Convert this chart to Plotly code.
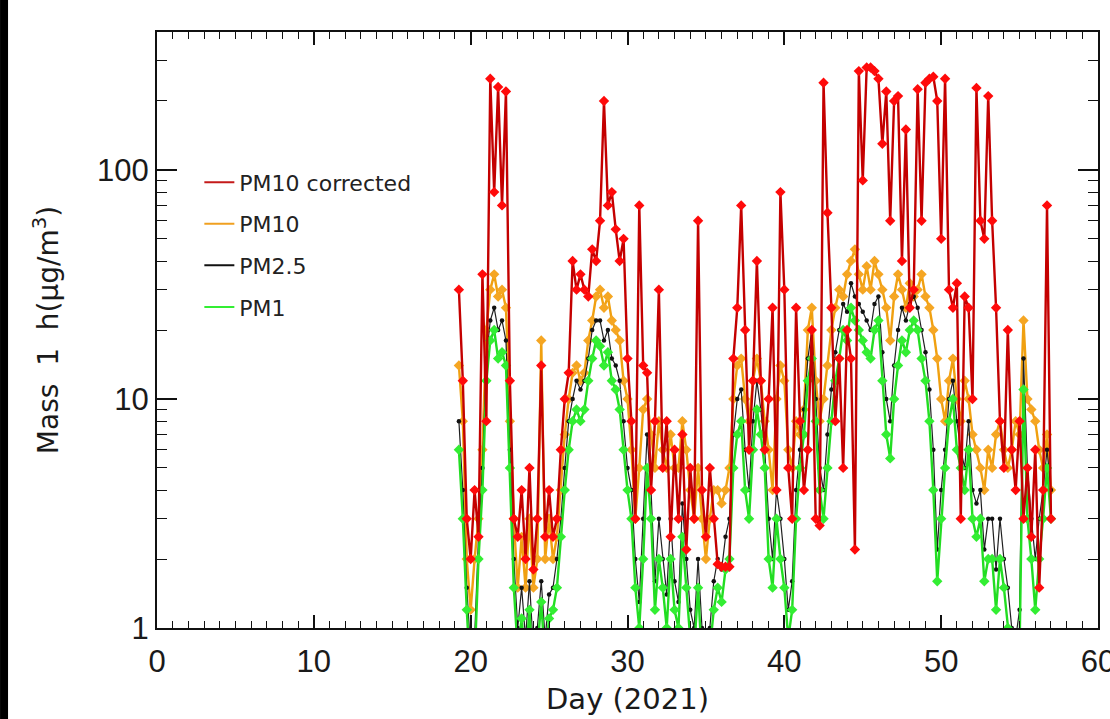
import numpy as np
import plotly.graph_objects as go

# Time grid (day of 2021), 6-hourly samples
day = np.arange(19.25, 57.01, 0.25)

pm10_corrected = [
    30, 12, 3, 2,        4, 2.5, 35, 8,       250, 80, 230, 70,    220, 12, 3, 2.5,
    4, 2, 5, 1.8,        3, 14, 2.5, 4,       2.5, 3, 6, 10,       13, 40, 30, 35,
    30, 28, 45, 40,      60, 200, 70, 80,     55, 40, 50, 15,      8, 3, 70, 14,
    13, 4, 8, 30,        5, 8, 2.5, 6,        3, 7, 2.2, 5,        3, 60, 4, 2.5,
    5, 3, 1.9, 1.85,     1.85, 1.85, 15, 25,  70, 20, 6, 12,       40, 12, 6, 10,
    25, 4, 80, 30,       5, 3, 25, 8,         4, 6, 20, 3,         2.8, 240, 65, 25,
    8, 15, 5, 20,        15, 2.2, 270, 90,    280, 280, 270, 250,  130, 220, 60, 200,
    210, 40, 150, 25,    30, 225, 60, 240,    250, 255, 200, 50,   250, 30, 25, 32,
    3, 28, 25, 10,       228, 60, 50, 210,    60, 25, 8, 5,        20, 6, 4, 8,
    3, 5, 2.5, 6,        1.5, 4, 70, 3,
]

pm10 = [
    14, 8, 2, 1.2,       2, 3, 6, 20,         30, 35, 28, 30,      25, 8, 3, 1.5,
    2.5, 1.5, 3, 1.5,    2, 18, 2, 3,         2, 2.5, 4, 7,        10, 13, 14, 12,
    13, 18, 22, 28,      30, 25, 28, 22,      20, 18, 12, 10,      6, 3, 5, 9,
    10, 7, 5, 8,         6, 5, 7, 5,          5, 8, 6, 4,          3, 5, 3, 2,
    3, 4, 4, 3.5,        4, 5, 10, 14,        15, 10, 8, 12,       15, 12, 8, 6,
    4, 10, 14, 12,       6, 5, 8, 7,          9, 20, 25, 12,       8, 10, 14, 20,
    25, 30, 28, 35,      40, 45, 35, 30,      38, 30, 40, 35,      30, 25, 18, 28,
    35, 30, 25, 32,      28, 30, 35, 28,      25, 20, 15, 10,      8, 12, 15, 10,
    8, 12, 10, 7,        6, 5, 4, 6,          5, 7, 8, 6,          5, 6, 8, 7,
    22, 10, 9, 8,        6, 5, 7, 4,
]

pm25 = [
    8, 4, 1.5, 0.8,      0.9, 2.5, 5, 15,     22, 25, 20, 22,      18, 6, 2, 1,
    1.5, 0.9, 1.6, 0.8,  1, 1.6, 0.9, 1.4,    1.5, 2, 3, 5,        8, 10, 12, 11,
    12, 15, 20, 22,      22, 18, 20, 15,      14, 12, 8, 5,        4, 2, 1.3, 3,
    7, 4, 1.6, 3,        2, 1.4, 3, 1.6,      1.3, 3.5, 2, 1.2,    1, 2, 1, 0.8,
    1, 1.6, 2, 1.8,      2.5, 3, 7, 10,       11, 6, 4, 8,         12, 9, 6, 3,
    2, 4, 3, 2,          1.2, 1.6, 4, 6,      9, 15, 20, 10,       5, 4, 7, 11,
    16, 20, 26, 24,      32, 28, 26, 24,      22, 20, 26, 28,      16, 10, 8, 14,
    20, 25, 22, 26,      28, 25, 20, 16,      11, 6, 2.2, 4,       6, 10, 12, 8,
    6, 5, 8, 4,          3.5, 4, 2.2, 3,      3, 1.8, 3, 2,        1.5, 1, 0.9, 1.2,
    15, 5, 3, 2,         3, 4, 6, 4,
]

pm1 = [
    6, 3, 1.2, 0.6,      0.7, 2, 4, 12,       18, 20, 15, 16,      14, 5, 1.5, 0.8,
    1.1, 0.7, 1.2, 0.6,  0.8, 1.3, 0.7, 1.1,  1.2, 1.5, 2.5, 4,    6, 8, 9, 8,
    9, 12, 15, 18,       17, 14, 16, 12,      11, 9, 6, 4,         3, 1.5, 1, 2,
    5, 3, 1.2, 2,        1.5, 1, 2, 1.2,      1, 2.5, 1.5, 0.9,    0.8, 1.5, 0.7, 0.6,
    0.8, 1.2, 1.5, 1.3,  1.8, 2, 5, 7,        8, 4, 3, 6,          9, 7, 5, 2,
    1.5, 3, 2, 1.5,      0.9, 1.2, 3, 5,      7, 12, 15, 8,        4, 3, 5, 8,
    12, 15, 20, 18,      25, 22, 20, 18,      16, 15, 20, 22,      12, 7, 5.5, 10,
    14, 18, 16, 20,      22, 20, 15, 12,      8, 4, 1.6, 3,        5, 8, 10, 6,
    5, 4, 6, 3,          2.5, 3, 1.6, 2,      2, 1.2, 2, 1.5,      1, 0.7, 0.6, 0.8,
    11, 3, 2, 1.2,       2, 3, 5, 3,
]

series_names = ["PM10 corrected", "PM10", "PM2.5", "PM1"]
x_major = [0, 10, 20, 30, 40, 50, 60]
x_minor = list(range(0, 61))
y_major = [1, 10, 100]
y_major_text = ["1", "10", "100"]
y_minor = [2, 3, 4, 5, 6, 7, 8, 9, 20, 30, 40, 50, 60, 70, 80, 90, 200, 300, 400]

XR = [0, 60]
YR = [0, float(np.log10(400))]

fig = go.Figure()

fig.add_trace(go.Scatter(x=day, y=pm10, mode="lines+markers", showlegend=False,
                         line=dict(color="#f0a010", width=2.4),
                         marker=dict(symbol="diamond", size=8, color="#f5a623")))
fig.add_trace(go.Scatter(x=day, y=pm25, mode="lines+markers", showlegend=False,
                         line=dict(color="#202020", width=1.2),
                         marker=dict(symbol="circle", size=4.5, color="#111111")))
fig.add_trace(go.Scatter(x=day, y=pm1, mode="lines+markers", showlegend=False,
                         line=dict(color="#22dd22", width=2.4),
                         marker=dict(symbol="diamond", size=8, color="#33ee33")))
fig.add_trace(go.Scatter(x=day, y=pm10_corrected, mode="lines+markers", showlegend=False,
                         line=dict(color="#c40000", width=2.4),
                         marker=dict(symbol="diamond", size=8, color="#ff0a0a")))

leg_colors = ["#c41a1a", "#f0a020", "#111111", "#33ee33"]
for i, (nm, c) in enumerate(zip(series_names, leg_colors)):
    fig.add_trace(go.Scatter(x=[None], y=[None], mode="lines", name=nm,
                             legendgroup=f"g{i}", line=dict(color=c, width=2)))

# empty traces so the overlay tick axes (minor / mirrored ticks) get drawn
for k in (2, 3, 4):
    fig.add_trace(go.Scatter(x=[None], y=[None], xaxis=f"x{k}", yaxis=f"y{k}",
                             showlegend=False, hoverinfo="skip", mode="markers"))

axis_font = dict(family="Liberation Sans", size=31, color="#1a1a1a")
tick_col = "#111111"

def tick_axis(**kw):
    d = dict(showgrid=False, zeroline=False, showticklabels=False, showline=False,
             ticks="inside", tickcolor=tick_col, automargin=False)
    d.update(kw)
    return d

fig.update_layout(
    width=1110, height=719,
    margin=dict(l=157, r=12, t=32, b=91),
    paper_bgcolor="white", plot_bgcolor="rgba(0,0,0,0)",
    showlegend=True,
    legend=dict(x=0.045, y=0.783, xanchor="left", yanchor="top",
                bgcolor="rgba(0,0,0,0)", borderwidth=0,
                font=dict(family="DejaVu Sans", size=22, color="#222222"),
                tracegroupgap=10, itemwidth=30, traceorder="grouped"),
    xaxis=dict(range=XR, tickvals=x_major, ticks="inside", ticklen=13,
               tickwidth=1.5, tickcolor=tick_col, showline=True, linecolor=tick_col,
               linewidth=2, mirror=True, showgrid=False, zeroline=False,
               tickfont=axis_font, automargin=False, anchor="y", ticklabelstandoff=5,
               ticklabeloverflow="allow",
               title=dict(text="Day (2021)",
                          font=dict(family="DejaVu Sans", size=29, color="#1a1a1a"),
                          standoff=10)),
    xaxis2=tick_axis(overlaying="x", side="top", anchor="y", range=XR,
                     tickvals=x_major, ticklen=13, tickwidth=1.5),
    xaxis3=tick_axis(overlaying="x", side="bottom", anchor="y", range=XR,
                     tickvals=x_minor, ticklen=7, tickwidth=1.3),
    xaxis4=tick_axis(overlaying="x", side="top", anchor="y", range=XR,
                     tickvals=x_minor, ticklen=7, tickwidth=1.3),
    yaxis=dict(type="log", range=YR, tickvals=y_major, ticktext=y_major_text,
               ticks="inside", ticklen=20, tickwidth=1.5, tickcolor=tick_col,
               showline=True, linecolor=tick_col, linewidth=2, mirror=True,
               showgrid=False, zeroline=False, tickfont=axis_font, automargin=False,
               anchor="x", ticklabeloverflow="allow",
               title=dict(text="Mass\u00a0 1\u00a0 h(\u03bcg/m<sup>3</sup>)",
                          font=dict(family="DejaVu Sans", size=28, color="#1a1a1a"),
                          standoff=30)),
    yaxis2=tick_axis(overlaying="y", side="right", anchor="x", type="log", range=YR,
                     tickvals=y_major, ticklen=20, tickwidth=1.5),
    yaxis3=tick_axis(overlaying="y", side="left", anchor="x", type="log", range=YR,
                     tickvals=y_minor, ticklen=10, tickwidth=1.3),
    yaxis4=tick_axis(overlaying="y", side="right", anchor="x", type="log", range=YR,
                     tickvals=y_minor, ticklen=10, tickwidth=1.3),
    shapes=[dict(type="rect", xref="paper", yref="paper",
                 x0=-0.1668, x1=-0.1583, y0=-0.3, y1=1.2,
                 fillcolor="black", line=dict(width=0), layer="above")],
)

fig.write_html("out.html", config={"displayModeBar": False},
               post_script="document.body.style.margin='0px';")
